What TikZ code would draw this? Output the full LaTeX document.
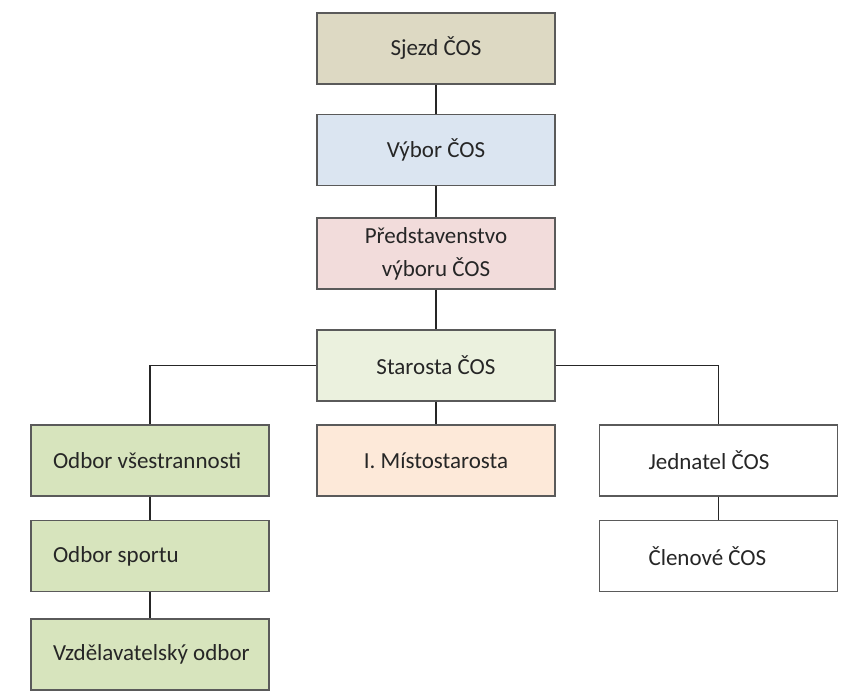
\documentclass[tikz,border=0pt]{standalone}
\usepackage{fontspec}
\setmainfont{Carlito}
\definecolor{cTan}{HTML}{DDD9C3}
\definecolor{cBlue}{HTML}{DBE5F1}
\definecolor{cPink}{HTML}{F2DCDB}
\definecolor{cLGreen}{HTML}{EBF1DE}
\definecolor{cPeach}{HTML}{FDE9D9}
\definecolor{cOlive}{HTML}{D7E4BD}
\definecolor{cBorder}{HTML}{5A5A5A}
\definecolor{cText}{HTML}{262626}
\begin{document}
\begin{tikzpicture}[x=1pt,y=-1pt,
  orgbox/.style={draw=cBorder, line width=1.3pt, minimum width=238pt, minimum height=71pt,
    inner sep=0pt, text=cText, font=\fontsize{23}{33}\selectfont, align=center},
  leftbox/.style={orgbox, fill=cOlive, text width=238pt, align=flush left,
    execute at begin node={\hspace*{22pt}}},
  rightbox/.style={orgbox, fill=white, text width=238pt, align=flush left,
    execute at begin node={\hspace*{49pt}}},
  conn/.style={draw=black!85, line width=1.3pt}]
\useasboundingbox (0,0) rectangle (842,697);
\node[orgbox, fill=cTan] (sjezd) at (436,48.5) {Sjezd ČOS};
\node[orgbox, fill=cBlue] (vybor) at (436,150) {Výbor ČOS};
\node[orgbox, fill=cPink] (pred) at (436,253.5) {Představenstvo\\výboru ČOS};
\node[orgbox, fill=cLGreen] (star) at (436,365.5) {Starosta ČOS};
\node[orgbox, fill=cPeach] (mist) at (436,460.5) {I. Místostarosta};
\node[leftbox] (vses) at (150,460.5) {Odbor všestrannosti};
\node[leftbox] (sport) at (150,556) {Odbor sportu};
\node[leftbox] (vzdel) at (150,654.5) {Vzdělavatelský odbor};
\node[rightbox] (jedn) at (718.5,460.5) {Jednatel ČOS};
\node[rightbox] (clen) at (718.5,556) {Členové ČOS};
\draw[conn] (sjezd) -- (vybor);
\draw[conn] (vybor) -- (pred);
\draw[conn] (pred) -- (star);
\draw[conn] (star) -- (mist);
\draw[conn] (star.west) -| (vses.north);
\draw[conn] (star.east) -| (jedn.north);
\draw[conn] (vses) -- (sport);
\draw[conn] (sport) -- (vzdel);
\draw[conn] (jedn) -- (clen);
\end{tikzpicture}
\end{document}
